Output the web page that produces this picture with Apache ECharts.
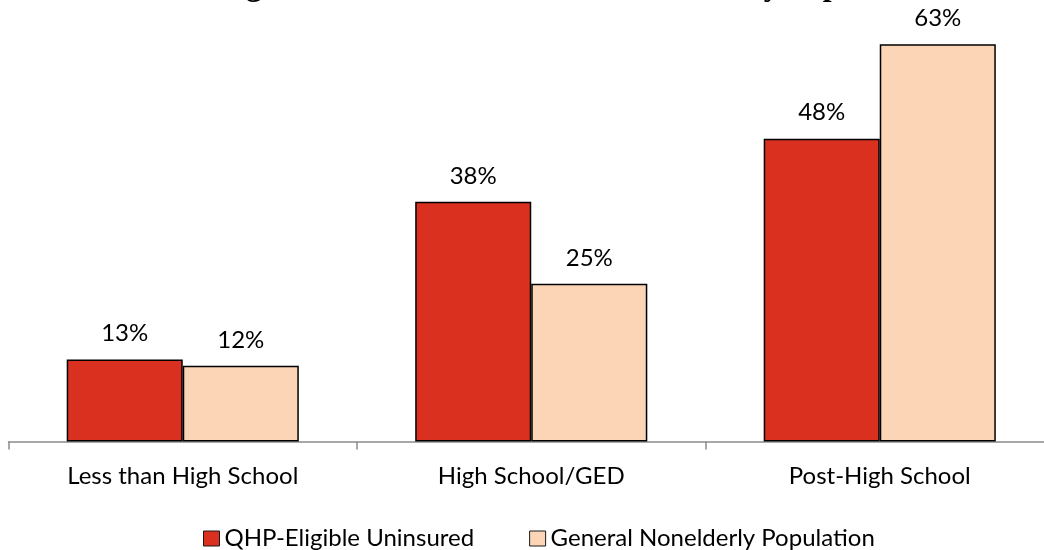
<!DOCTYPE html>
<html>
<head>
<meta charset="utf-8">
<script src="https://cdn.jsdelivr.net/npm/echarts@6/dist/echarts.min.js"></script>
<style>
  html, body { margin: 0; padding: 0; background: #fff; overflow: hidden; }
  #chart { width: 1054px; height: 550px; }
</style>
</head>
<body>
<div id="chart"></div>
<script>
// Education levels and shares for each group (percent)
const categories = ['Less than High School', 'High School/GED', 'Post-High School'];
const qhpEligible = [13, 38, 48];
const generalPop = [12, 25, 63];
const seriesNames = ['QHP-Eligible Uninsured', 'General Nonelderly Population'];
const titleText = 'QHP-Eligible Uninsured vs. General Nonelderly Population';

const FONT = 'Lato, "Open Sans", sans-serif';
const chart = echarts.init(document.getElementById('chart'), null, { renderer: 'canvas' });

const labelCfg = {
  show: true,
  position: 'top',
  distance: 14,
  formatter: p => p.value + '%',
  color: '#000',
  fontFamily: FONT,
  fontSize: 24
};

chart.setOption({
  animation: false,
  backgroundColor: '#fff',
  // title sits above the page edge; only its lower strokes fall inside
  title: {
    text: titleText,
    left: 128,
    top: -29,
    padding: 0,
    textStyle: { fontFamily: '"Liberation Serif", "Times New Roman", serif', fontWeight: 'bold', fontSize: 31.7, color: '#000' }
  },
  legend: {
    bottom: -0.5,
    left: 203,
    padding: 0,
    itemWidth: 16,
    itemHeight: 15,
    itemGap: 55,
    icon: 'rect',
    textStyle: { fontFamily: FONT, fontSize: 24, color: '#000' },
    data: seriesNames.map(n => ({
      name: n,
      itemStyle: { borderColor: '#1a1a1a', borderWidth: 1 }
    }))
  },
  grid: { left: 8.5, right: 0, top: 0, bottom: 108.5, containLabel: false },
  xAxis: {
    type: 'category',
    data: categories,
    axisLine: { lineStyle: { color: '#8c8c8c', width: 1.5 } },
    axisTick: { show: true, length: 8, lineStyle: { color: '#8c8c8c', width: 1.5 } },
    axisLabel: { color: '#000', fontFamily: FONT, fontSize: 24, margin: 23 }
  },
  yAxis: {
    type: 'value',
    min: 0,
    max: 70,
    show: false,
    splitLine: { show: false }
  },
  series: [
    {
      name: seriesNames[0],
      type: 'bar',
      data: qhpEligible,
      barWidth: '33.3%',
      barGap: '0%',
      itemStyle: { color: '#D9301F', borderColor: '#000', borderWidth: 1.5 },
      label: labelCfg
    },
    {
      name: seriesNames[1],
      type: 'bar',
      data: generalPop,
      barWidth: '33.3%',
      barGap: '0%',
      itemStyle: { color: '#FBD5B5', borderColor: '#000', borderWidth: 1.5 },
      label: labelCfg
    }
  ]
});
</script>
</body>
</html>
